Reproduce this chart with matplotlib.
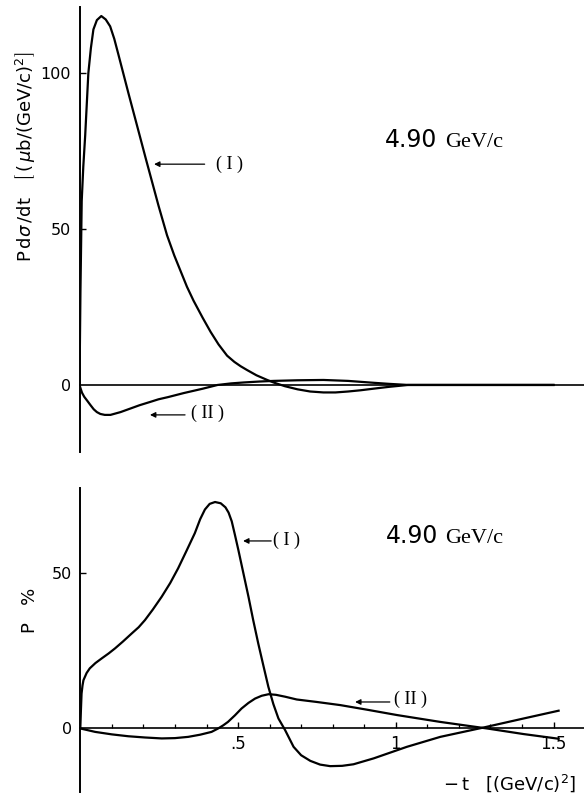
import numpy as np
import matplotlib
matplotlib.use("Agg")
import matplotlib.pyplot as plt

plt.rcParams['font.family'] = 'DejaVu Sans'
plt.rcParams['mathtext.fontset'] = 'dejavusans'

# upper panel: P dsigma/dt  [mub/(GeV/c)^2] vs -t
t_top1 = [0.0, 0.003, 0.007, 0.012, 0.018, 0.028, 0.036, 0.044, 0.055, 0.069,
          0.083, 0.097, 0.11, 0.123, 0.155, 0.187, 0.21, 0.23, 0.25, 0.277,
          0.30, 0.32, 0.34, 0.361, 0.39, 0.415, 0.44, 0.467, 0.49, 0.51,
          0.53, 0.56, 0.594, 0.614, 0.65, 0.69, 0.73, 0.772, 0.81, 0.85,
          0.89, 0.93, 0.98, 1.04, 1.2, 1.35, 1.5]
p_top1 = [0.0, 30, 59, 70, 80, 100, 108, 114, 117, 118.3,
          117.2, 115, 111, 106, 93.5, 81.3, 72.5, 65, 57.5, 48,
          41.5, 36.5, 31.5, 27, 21.5, 17, 13, 9.4, 7.4, 6.0,
          4.8, 3.1, 1.6, 0.8, -0.4, -1.4, -2.1, -2.4, -2.4, -2.1,
          -1.7, -1.2, -0.6, 0.0, 0.0, 0.0, 0.0]

t_top2 = [0.0, 0.004, 0.008, 0.015, 0.024, 0.035, 0.045, 0.055, 0.066, 0.08,
          0.098, 0.13, 0.16, 0.19, 0.225, 0.25, 0.28, 0.33, 0.39, 0.437,
          0.48, 0.52, 0.57, 0.614, 0.69, 0.772, 0.85, 0.93, 0.98, 1.04,
          1.2, 1.35, 1.5]
p_top2 = [0.0, -1.3, -2.5, -3.8, -5.0, -6.5, -7.8, -8.7, -9.3, -9.6,
          -9.6, -8.7, -7.6, -6.5, -5.4, -4.6, -3.9, -2.6, -1.2, 0.0,
          0.5, 0.8, 1.1, 1.3, 1.5, 1.6, 1.3, 0.7, 0.35, 0.0,
          0.0, 0.0, 0.0]

# lower panel: polarization P (%) vs -t
t_bot1 = [0.0, 0.002, 0.004, 0.007, 0.01, 0.02, 0.03, 0.048, 0.068, 0.09,
          0.11, 0.135, 0.163, 0.185, 0.205, 0.23, 0.258, 0.285, 0.31, 0.336,
          0.363, 0.38, 0.395, 0.41, 0.427, 0.445, 0.46, 0.47, 0.48, 0.49,
          0.501, 0.517, 0.533, 0.548, 0.564, 0.58, 0.596, 0.612, 0.628, 0.649,
          0.676, 0.70, 0.729, 0.76, 0.792, 0.83, 0.866, 0.93, 1.035, 1.141,
          1.278, 1.405, 1.516]
p_bot1 = [0.0, 6.0, 11.2, 13.8, 15.5, 17.8, 19.3, 21.0, 22.5, 24.1,
          25.7, 27.9, 30.5, 32.5, 34.8, 38.2, 42.3, 46.7, 51.4, 56.9,
          62.7, 67.2, 70.3, 72.1, 72.7, 72.3, 71.0, 69.3, 66.5, 62.2,
          57.3, 49.8, 42.3, 34.8, 27.3, 20.3, 13.4, 7.8, 3.2, -0.5,
          -5.9, -8.6, -10.4, -11.6, -12.1, -12.0, -11.5, -9.6, -5.9, -2.7,
          0.3, 3.2, 5.7]

t_bot2 = [0.0, 0.047, 0.1, 0.152, 0.205, 0.258, 0.30, 0.342, 0.38, 0.416,
          0.437, 0.453, 0.468, 0.49, 0.511, 0.533, 0.554, 0.575, 0.597, 0.62,
          0.649, 0.686, 0.75, 0.824, 0.91, 1.004, 1.141, 1.289, 1.405, 1.516]
p_bot2 = [0.0, -1.1, -1.9, -2.5, -2.9, -3.2, -3.1, -2.7, -2.0, -1.1,
          0.0, 1.0, 2.1, 4.2, 6.4, 8.2, 9.6, 10.5, 11.0, 10.8,
          10.2, 9.3, 8.5, 7.5, 6.0, 4.3, 2.1, 0.0, -1.8, -3.3]

yticks_top = [0, 50, 100]
yticks_bot = [0, 50]
xticks_major = [0.5, 1.0, 1.5]
xtick_labels = ['.5', '1', '1.5']
xticks_minor = [0.1, 0.2, 0.3, 0.4, 0.6, 0.7, 0.8, 0.9, 1.1, 1.2, 1.3, 1.4]

W, H = 584, 798
fig = plt.figure(figsize=(W / 100, H / 100), dpi=100)


def px_axes(x0, y0, x1, y1):
    # axes box given in pixel coordinates (top-left origin)
    return fig.add_axes([x0 / W, 1 - y1 / H, (x1 - x0) / W, (y1 - y0) / H])


lw = 1.6
serif = 'Liberation Serif'

ax1 = px_axes(79.5, 7, W, 452)
ax1.plot(t_top1, p_top1, color='k', lw=lw)
ax1.plot(t_top2, p_top2, color='k', lw=lw)
ax1.set_xlim(0, (W - 79.5) / 316)
ax1.set_ylim(-21.5, 121.2)

ax2 = px_axes(80.3, 488, W, 792)
ax2.plot(t_bot1, p_bot1, color='k', lw=lw)
ax2.plot(t_bot2, p_bot2, color='k', lw=lw)
ax2.set_xlim(0, (W - 80.3) / 315.5)
ax2.set_ylim(-20.4, 77.2)

for ax, yt in ((ax1, yticks_top), (ax2, yticks_bot)):
    for s in ('top', 'right'):
        ax.spines[s].set_visible(False)
    ax.spines['left'].set_linewidth(1.4)
    ax.spines['bottom'].set_position(('data', 0))
    ax.spines['bottom'].set_linewidth(1.2)
    ax.set_yticks(yt)
    ax.set_yticklabels([str(v) for v in yt])
    ax.tick_params(axis='y', direction='in', length=4, width=1.0, pad=6,
                   labelsize=11.5)
    ax.yaxis.get_major_ticks()[0].tick1line.set_visible(False)

ax1.set_xticks([])

ax2.set_xticks(xticks_major)
ax2.set_xticklabels(xtick_labels)
ax2.set_xticks(xticks_minor, minor=True)
ax2.tick_params(axis='x', which='major', direction='in', length=4, width=1.0,
                pad=5, labelsize=12)
ax2.tick_params(axis='x', which='minor', direction='in', length=3, width=0.9)

arrow = dict(arrowstyle='-|>', color='k', lw=0.9, mutation_scale=8,
             shrinkA=0, shrinkB=0)

# curve labels with arrows
ax1.annotate('', xy=(0.236, 70.8), xytext=(0.396, 70.8), arrowprops=arrow)
ax1.text(0.432, 70.8, '( I )', family=serif, fontsize=13, va='center')
ax1.annotate('', xy=(0.223, -9.6), xytext=(0.334, -9.6), arrowprops=arrow)
ax1.text(0.352, -9.2, '( II )', family=serif, fontsize=13, va='center')

ax2.annotate('', xy=(0.516, 60.2), xytext=(0.605, 60.2), arrowprops=arrow)
ax2.text(0.612, 60.4, '( I )', family=serif, fontsize=13, va='center')
ax2.annotate('', xy=(0.871, 8.5), xytext=(0.981, 8.5), arrowprops=arrow)
ax2.text(0.995, 9.4, '( II )', family=serif, fontsize=13, va='center')

# beam momentum
ax1.text(0.967, 76.3, '4.90', fontsize=17, va='baseline')
ax1.text(1.157, 76.3, 'GeV/c', family=serif, fontsize=16, va='baseline')
ax2.text(0.969, 59.6, '4.90', fontsize=17, va='baseline')
ax2.text(1.156, 59.6, 'GeV/c', family=serif, fontsize=16, va='baseline')

# axis titles
fig.text(26 / W, 1 - 157 / H,
         r'$\mathrm{P\,d}\sigma\mathrm{\,/dt}\ \ \ \left[\,(\,\mu\mathrm{b/(GeV/c)}^2\right]$',
         rotation=90, ha='center', va='center', fontsize=13)
fig.text(30 / W, 1 - 610 / H, 'P   %', rotation=90, ha='center', va='center',
         fontsize=13)
fig.text(576 / W, 1 - 783 / H,
         r'$-\,\mathrm{t}\ \ \ \left[\mathrm{(GeV/c)}^2\right]$',
         ha='right', va='center', fontsize=13)

fig.savefig('out.png', dpi=100)
